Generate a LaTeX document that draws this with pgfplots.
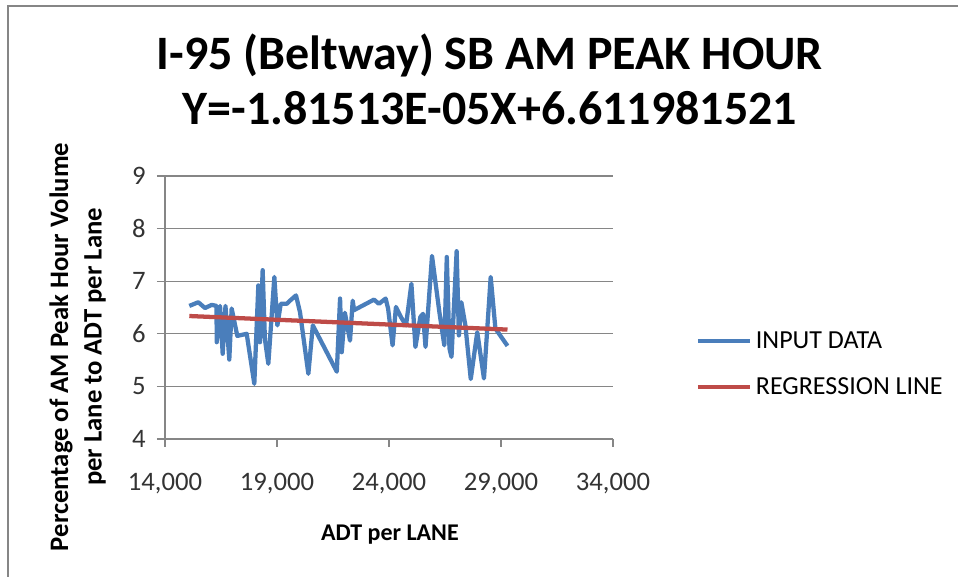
\documentclass[border=0pt]{standalone}
\usepackage{fontspec}
\setmainfont{Carlito}
\usepackage{pgfplots}
\pgfplotsset{compat=1.18}
\definecolor{xlblue}{HTML}{4A7EBB}
\definecolor{xlred}{HTML}{BE4B48}
\definecolor{xlgrid}{HTML}{868686}

\begin{document}
\begin{tikzpicture}
\useasboundingbox (0,0) rectangle (718.5pt,432.75pt);
\draw[xlgrid,line width=1.5pt] (6pt,0pt) -- (6pt,428.25pt) -- (718.5pt,428.25pt);
\begin{axis}[
  at={(123.75pt,103.5pt)},
  anchor=south west,
  scale only axis,
  width=336pt,
  height=197.25pt,
  xmin=14000, xmax=34000,
  ymin=4, ymax=9,
  xtick={14000,19000,24000,29000,34000},
  ytick={4,5,6,7,8,9},
  scaled x ticks=false,
  axis x line*=bottom,
  axis y line*=left,
  axis line style={xlgrid,line width=0.8pt},
  tick align=outside,
  major tick length=6pt,
  tick style={xlgrid,line width=0.8pt},
  ymajorgrids,
  grid style={xlgrid,line width=0.8pt},
  /pgf/number format/assume math mode=true,
  /pgf/number format/.cd,fixed,1000 sep={,},
  /pgfplots/.cd,
  tick label style={font=\fontsize{20}{20}\selectfont,text=black!80},
  xticklabel style={yshift=-16pt},
  yticklabel style={xshift=-5pt},
  title={I-95 (Beltway) SB AM PEAK HOUR\\Y=-1.81513E-05X+6.611981521},
  title style={at={(axis description cs:0.725,1.338)},anchor=center,align=center,
    font=\bfseries\fontsize{36}{41}\selectfont},
  xlabel={ADT per LANE},
  xlabel style={at={(axis description cs:0.502,-0.365)},anchor=center,
    font=\bfseries\fontsize{18}{20}\selectfont},
  ylabel={Percentage of AM Peak Hour Volume\\per Lane to ADT per Lane},
  ylabel style={at={(axis description cs:-0.195,0.35)},anchor=center,align=center,
    font=\bfseries\fontsize{20}{25}\selectfont},
  legend style={at={(axis description cs:1.175,0.285)},anchor=west,draw=none,fill=none,
    font=\fontsize{19.5}{20}\selectfont,row sep=16pt,
    /tikz/every odd column/.append style={column sep=1pt}},
  legend cell align=left,
  legend image code/.code={\draw[#1] (0pt,0pt) -- (39pt,0pt);},
]
\addplot[xlblue,line width=3.2pt,line join=round] table {
x y
15085 6.53
15487 6.60
15786 6.49
16085 6.55
16300 6.53
16310 5.84
16457 6.53
16575 5.62
16700 6.53
16870 5.51
16976 6.48
17228 5.96
17647 6.00
17987 5.05
18167 6.92
18240 5.84
18360 7.21
18460 5.90
18613 5.43
18882 7.08
19017 6.16
19167 6.57
19435 6.57
19580 6.63
19848 6.73
20027 6.41
20400 5.24
20600 6.16
21670 5.28
21815 6.67
21890 5.65
22030 6.40
22260 5.87
22380 6.63
22440 6.45
23330 6.65
23550 6.57
23850 6.67
23960 6.48
24160 5.78
24310 6.51
24530 6.32
24760 6.16
25000 6.95
25180 5.75
25400 6.32
25520 6.38
25630 5.75
25920 7.48
26250 6.41
26470 5.78
26580 7.46
26700 5.72
26790 5.56
27020 7.57
27120 5.97
27230 6.60
27410 6.16
27650 5.14
27940 6.03
28240 5.15
28540 7.08
28750 6.10
29290 5.77
};
\addlegendentry{INPUT DATA}
\addplot[xlred,line width=3.2pt] coordinates {(15085,6.338) (29290,6.080)};
\addlegendentry{REGRESSION LINE}
\end{axis}
\end{tikzpicture}
\end{document}
